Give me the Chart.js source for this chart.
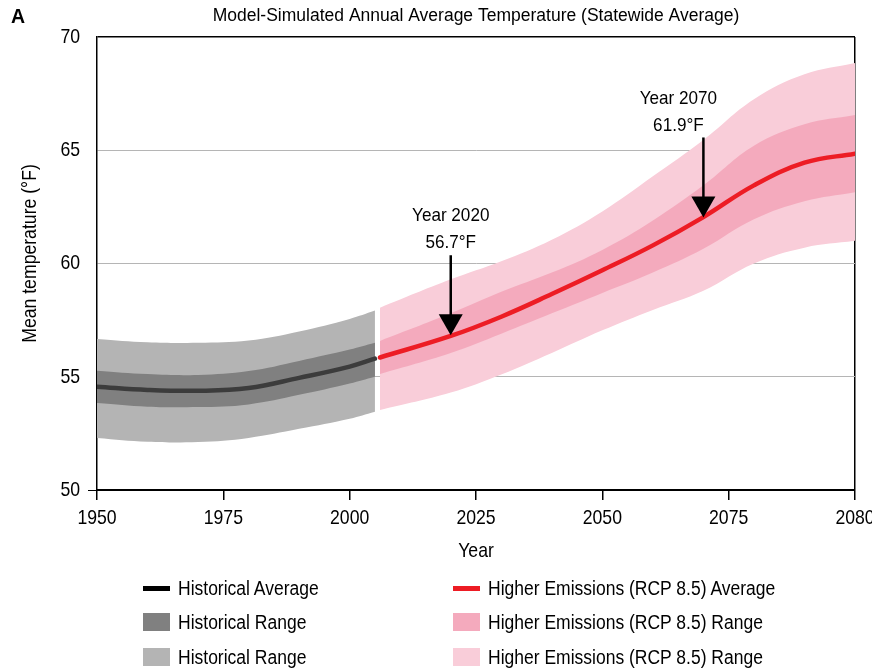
<!DOCTYPE html>
<html><head><meta charset="utf-8">
<script src="https://cdn.jsdelivr.net/npm/chart.js@4.4.1/dist/chart.umd.min.js"></script>
<style>
html,body{margin:0;padding:0;background:#fff;}
#wrap{position:relative;width:872px;height:669px;overflow:hidden;}
canvas{position:absolute;left:0;top:0;}
.lg{position:absolute;font-family:'Liberation Sans Narrow','Arial Narrow','Liberation Sans',Arial,sans-serif;font-size:20px;color:#000;white-space:nowrap;line-height:24px;height:24px;transform:scaleX(0.875);transform-origin:0 50%;}
.sw{position:absolute;}
</style></head>
<body>
<div id="wrap"><canvas id="c" width="872" height="669"></canvas><div id="legend"></div></div>
<script>
const FONT = "'Liberation Sans','Arial',sans-serif";

// ---- data ----
const histYears = [1950, 1960, 1970, 1980, 1990, 2000, 2005];
const histAvg       = [54.56, 54.42, 54.38, 54.50, 54.95, 55.45, 55.80];
const histInnerHigh = [55.27, 55.12, 55.08, 55.25, 55.70, 56.20, 56.50];
const histInnerLow  = [53.84, 53.68, 53.66, 53.78, 54.20, 54.70, 55.00];
const histOuterHigh = [56.67, 56.52, 56.50, 56.60, 57.00, 57.55, 57.92];
const histOuterLow  = [52.30, 52.13, 52.12, 52.30, 52.70, 53.15, 53.46];

const futYears = [2006, 2020, 2030, 2040, 2050, 2060, 2070, 2080, 2090, 2100];
const futAvg       = [55.85, 56.80, 57.65, 58.65, 59.70, 60.80, 62.05, 63.45, 64.45, 64.85];
const futInnerHigh = [56.58, 57.80, 58.75, 59.60, 60.60, 61.90, 63.45, 65.20, 66.15, 66.56];
const futInnerLow  = [55.12, 56.05, 56.90, 57.80, 58.70, 59.60, 60.65, 61.95, 62.75, 63.15];
const futOuterHigh = [58.05, 59.30, 60.10, 61.05, 62.30, 63.85, 65.45, 67.25, 68.35, 68.85];
const futOuterLow  = [53.53, 54.30, 55.10, 56.05, 57.05, 57.95, 58.80, 60.00, 60.70, 61.00];

const xTickValues = [1950, 1975, 2000, 2025, 2050, 2075, 2100];
const xTickLabels = ['1950', '1975', '2000', '2025', '2050', '2075', '2080'];
const yTickValues = [50, 55, 60, 65, 70];

const annotYears  = [2020, 2070];
const annotValues = [56.7, 61.9];
const annotTitles = ['Year 2020', 'Year 2070'];

const legendLabels = ['Historical Average', 'Historical Range', 'Historical Range',
  'Higher Emissions (RCP 8.5) Average', 'Higher Emissions (RCP 8.5) Range', 'Higher Emissions (RCP 8.5) Range'];

// ---- colours ----
const C = {
  histLine: '#3c3c3c', histInner: '#808080', histOuter: '#b4b4b4',
  futLine: '#ed1c24', futInner: '#f4aabd', futOuter: '#f9cdd9'
};

// ---- narrow text emulation on the chart canvas ----
const canvas = document.getElementById('c');
const g = canvas.getContext('2d');
const rawFill = g.fillText.bind(g);
let TEXT_SX = 0.84;
g.fillText = function (t, x, y, m) {
  if (TEXT_SX === 1) { return m === undefined ? rawFill(t, x, y) : rawFill(t, x, y, m); }
  g.save();
  g.translate(x, y);
  g.scale(TEXT_SX, 1);
  if (m === undefined) rawFill(t, 0, 0); else rawFill(t, 0, 0, m / TEXT_SX);
  g.restore();
};

const pts = (xs, ys) => xs.map((x, i) => ({x, y: ys[i]}));
const band = (xs, ys, color, fill, order) => ({
  data: pts(xs, ys), borderWidth: 0, pointRadius: 0, backgroundColor: color,
  borderColor: color, fill: fill, order: order, tension: 0.4
});

const datasets = [
  band(histYears, histOuterHigh, C.histOuter, '+1', 5),
  band(histYears, histOuterLow, C.histOuter, false, 5),
  band(histYears, histInnerHigh, C.histInner, '+1', 4),
  band(histYears, histInnerLow, C.histInner, false, 4),
  band(futYears, futOuterHigh, C.futOuter, '+1', 5),
  band(futYears, futOuterLow, C.futOuter, false, 5),
  band(futYears, futInnerHigh, C.futInner, '+1', 4),
  band(futYears, futInnerLow, C.futInner, false, 4),
  {data: pts(histYears, histAvg), borderColor: C.histLine, borderWidth: 4.5, pointRadius: 0,
   fill: false, order: 1, tension: 0.4, borderCapStyle: 'round'},
  {data: pts(futYears, futAvg), borderColor: C.futLine, borderWidth: 4.5, pointRadius: 0,
   fill: false, order: 1, tension: 0.4, borderCapStyle: 'round'}
];

const deco = {
  id: 'deco',
  beforeDraw() { TEXT_SX = 0.84; },
  afterDraw(chart) {
    const {ctx, chartArea: a} = chart;
    ctx.save();
    TEXT_SX = 1;
    ctx.fillStyle = '#000';
    ctx.textAlign = 'center';
    ctx.textBaseline = 'middle';
    ctx.font = '17.5px ' + FONT;
    ctx.fillText('Model-Simulated Annual Average Temperature (Statewide Average)', (a.left + a.right) / 2, 16);
    ctx.textAlign = 'left';
    ctx.font = 'bold 19.5px ' + FONT;
    ctx.fillText('A', 11, 18);
    // y-axis title
    TEXT_SX = 0.84;
    ctx.save();
    ctx.translate(30, (a.top + a.bottom) / 2 - 10);
    ctx.rotate(-Math.PI / 2);
    ctx.textAlign = 'center';
    ctx.font = '21px ' + FONT;
    ctx.fillText('Mean temperature (°F)', 0, 0);
    ctx.restore();
    ctx.restore();
  },
  afterDatasetsDraw(chart) {
    const {ctx, scales: {x, y}} = chart;
    const shifts = [0, -25];
    ctx.save();
    annotYears.forEach((yr, i) => {
      const px = x.getPixelForValue(yr);
      const tip = y.getPixelForValue(annotValues[i]) - 3;
      ctx.strokeStyle = '#000';
      ctx.lineWidth = 2.5;
      ctx.beginPath();
      ctx.moveTo(px, tip - 80);
      ctx.lineTo(px, tip - 18);
      ctx.stroke();
      ctx.fillStyle = '#000';
      ctx.beginPath();
      ctx.moveTo(px - 12, tip - 21);
      ctx.lineTo(px + 12, tip - 21);
      ctx.lineTo(px, tip);
      ctx.closePath();
      ctx.fill();
      TEXT_SX = 0.9;
      ctx.font = '19px ' + FONT;
      ctx.textAlign = 'center';
      ctx.textBaseline = 'middle';
      ctx.fillText(annotTitles[i], px + shifts[i], tip - 119);
      ctx.fillText(annotValues[i].toFixed(1) + '°F', px + shifts[i], tip - 92);
      TEXT_SX = 0.84;
    });
    ctx.restore();
  }
};

new Chart(canvas, {
  type: 'line',
  data: {datasets},
  plugins: [deco],
  options: {
    responsive: false, animation: false, devicePixelRatio: 1,
    layout: {padding: {top: 37, left: 0, right: 0, bottom: 99}},
    plugins: {legend: {display: false}, tooltip: {enabled: false}, title: {display: false}},
    scales: {
      x: {
        type: 'linear', min: 1950, max: 2100,
        afterBuildTicks: s => { s.ticks = xTickValues.map(v => ({value: v})); },
        afterFit: s => { s.height = 80; s.paddingRight = 17; },
        ticks: {autoSkip: false, maxRotation: 0, color: '#000', padding: 6,
          font: {family: FONT, size: 21},
          callback: v => xTickLabels[xTickValues.indexOf(v)]},
        grid: {
          color: c => (c.tick && c.tick.value === 2100) ? '#000' : 'rgba(0,0,0,0)',
          lineWidth: 1.5, tickColor: '#000', tickLength: 10, drawOnChartArea: true
        },
        border: {color: '#000', width: 2},
        title: {display: true, text: 'Year', color: '#000', font: {family: FONT, size: 21}, padding: {top: 0, bottom: 6}}
      },
      y: {
        min: 50, max: 70,
        afterBuildTicks: s => { s.ticks = yTickValues.map(v => ({value: v})); },
        afterFit: s => { s.width = 97; },
        ticks: {color: '#000', padding: 8, font: {family: FONT, size: 21}},
        grid: {
          color: c => c.tick && c.tick.value === 70 ? '#000' : (c.tick && c.tick.value === 50 ? 'rgba(0,0,0,0)' : '#b5b5b5'),
          lineWidth: c => c.tick && c.tick.value === 70 ? 1.5 : 1,
          tickColor: c => c.tick && c.tick.value === 50 ? '#000' : 'rgba(0,0,0,0)',
          tickLength: 9
        },
        border: {color: '#000', width: 1.5},
        title: {display: false}
      }
    }
  }
});

// ---- legend (HTML) ----
const lg = document.getElementById('legend');
const swatches = [
  {c: '#000', line: true}, {c: C.histInner}, {c: C.histOuter},
  {c: C.futLine, line: true}, {c: C.futInner}, {c: C.futOuter}
];
const rowY = [588, 622, 657];
const colX = [143, 453];
legendLabels.forEach((t, i) => {
  const col = Math.floor(i / 3), row = i % 3;
  const s = document.createElement('div');
  s.className = 'sw';
  const sw = swatches[i];
  const h = sw.line ? 5 : 18;
  s.style.cssText = `left:${colX[col]}px;top:${rowY[row] - h / 2}px;width:27px;height:${h}px;background:${sw.c}`;
  lg.appendChild(s);
  const d = document.createElement('div');
  d.className = 'lg';
  d.textContent = t;
  d.style.left = (colX[col] + 35) + 'px';
  d.style.top = (rowY[row] - 12) + 'px';
  lg.appendChild(d);
});
</script>
</body></html>
